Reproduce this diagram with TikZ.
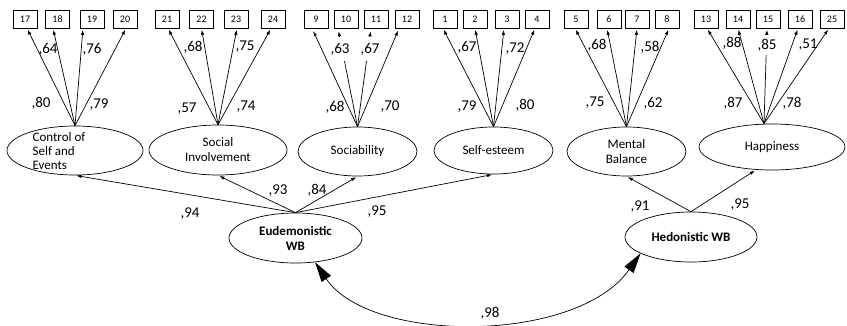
\documentclass[tikz,border=0pt]{standalone}
\usepackage{fontspec}
\setmainfont{Carlito}
\usetikzlibrary{shapes.geometric,arrows.meta}
\begin{document}
\begin{tikzpicture}[x=1pt,y=-1pt,
  item/.style={draw,line width=0.7pt,minimum width=24pt,minimum height=18pt,inner sep=0pt,
    font=\fontsize{10}{12}\selectfont},
  latent/.style={draw,ellipse,line width=0.7pt,inner sep=0pt,align=center,
    font=\fontsize{13}{15}\selectfont},
  bold latent/.style={latent,font=\fontsize{13}{15}\selectfont\bfseries},
  coef/.style={inner sep=0pt,font=\fontsize{15}{18}\selectfont},
  masked/.style={coef,fill=white,minimum width=24pt},
  load/.style={line width=0.7pt,-{Latex[length=5pt,width=3.5pt]},shorten >=1.5pt},
  corr/.style={line width=0.7pt,{Triangle[length=20pt,width=11pt]}-{Triangle[length=20pt,width=11pt]}}
]
\useasboundingbox (0,0) rectangle (847,325);

% latent factors
\node[latent,minimum width=136pt,minimum height=49pt] (ctrl) at (75,150.5) {};
\node[align=left,inner sep=0pt,font=\fontsize{13}{14}\selectfont] (ctrlT) at (59,151) {Control of\\Self and\\Events};
\node[latent,minimum width=138pt,minimum height=50pt] (soc) at (218,150) {Social\\Involvement};
\node[latent,minimum width=119pt,minimum height=49pt] (sab) at (357.5,151.5) {Sociability};
\node[latent,minimum width=119pt,minimum height=47pt] (est) at (493.5,150.5) {Self-esteem};
\node[latent,minimum width=119pt,minimum height=49pt] (mb) at (626.5,151.5) {Mental\\Balance};
\node[latent,minimum width=146pt,minimum height=46pt] (hap) at (772,147) {Happiness};
\node[bold latent,minimum width=133pt,minimum height=50pt] (eud) at (295.5,238) {Eudemonistic\\WB};
\node[bold latent,minimum width=132pt,minimum height=50pt] (hed) at (691,237) {Hedonistic WB};

% observed items
\foreach \n/\x in {17/25,18/57.5,19/92,20/125,21/167,22/201.5,23/236,24/273,
                   9/316,10/346,11/376,12/407,1/445,2/475,3/507,4/537,
                   5/576,6/609,7/637,8/667,13/706,14/738,15/768,16/800,25/832}
  \node[item] (b\n) at (\x,19) {\n};

% loadings: Control of Self and Events
\draw[load] (ctrl.north) -- ([xshift=2pt]b17.south);
\draw[load] (ctrl.north) -- ([xshift=-4.5pt]b18.south);
\draw[load] (ctrl.north) -- ([xshift=-9pt]b19.south);
\draw[load] (ctrl.north) -- ([xshift=1pt]b20.south);
% Social Involvement
\draw[load] (soc.north) -- ([xshift=1pt]b21.south);
\draw[load] (soc.north) -- (b22.south);
\draw[load] (soc.north) -- ([xshift=1pt]b23.south);
\draw[load] (soc.north) -- ([xshift=-2pt]b24.south);
% Sociability
\draw[load,shorten >=3pt] (sab.north) -- ([xshift=-4pt]b9.south);
\draw[load,shorten >=3pt] (sab.north) -- ([xshift=-8pt]b10.south);
\draw[load,shorten >=3pt] (sab.north) -- ([xshift=-5pt]b11.south);
\draw[load,shorten >=2.5pt] (sab.north) -- ([xshift=-8pt]b12.south);
% Self-esteem
\draw[load] (est.north) -- ([xshift=-2pt]b1.south);
\draw[load] (est.north) -- (b2.south);
\draw[load] (est.north) -- ([xshift=-3pt]b3.south);
\draw[load] (est.north) -- ([xshift=-2pt]b4.south);
% Mental Balance
\draw[load] (mb.north) -- ([xshift=-1pt]b5.south);
\draw[load] (mb.north) -- ([xshift=-2pt]b6.south);
\draw[load] (mb.north) -- (b7.south);
\draw[load] (mb.north) -- ([xshift=2pt]b8.south);
% Happiness
\coordinate (hapTop) at ([xshift=-8pt]hap.north);
\draw[load] (hapTop) -- ([xshift=1pt]b13.south);
\draw[load] (hapTop) -- (b14.south);
\draw[load] (hapTop) -- ([xshift=-1pt]b15.south);
\draw[load] (hapTop) -- ([xshift=-2pt]b16.south);
\draw[load] (hapTop) -- ([xshift=-3pt]b25.south);

% second-order paths
\draw[load] (eud.north) -- (ctrl.south);
\draw[load] (eud.north) -- (soc.south);
\draw[load] (eud.north) -- (sab.south);
\draw[load] (eud.north) -- (est.south);
\draw[load] (hed.north) -- (mb.south);
\draw[load] (hed.north) -- (hap.-125);

% factor correlation
\draw[corr] (eud.-51) .. controls (370,344) and (577,344) .. (hed.-162);

% coefficients
\node[coef] (c64) at (48,49) {,64};
\node[coef] (c76) at (92,49) {,76};
\node[coef] (c80a) at (41,103) {,80};
\node[coef] (c79a) at (99,105) {,79};
\node[coef] (c68a) at (193,47) {,68};
\node[coef] (c75a) at (245,47) {,75};
\node[coef] (c57) at (187,109) {,57};
\node[coef] (c74) at (246,107) {,74};
\node[masked,minimum height=24pt] (c63) at (340,49) {,63};
\node[masked,minimum height=24pt] (c67a) at (370,49) {,67};
\node[coef] (c68b) at (335,107) {,68};
\node[coef] (c70) at (390,107) {,70};
\node[coef] (c67b) at (467,47) {,67};
\node[coef] (c72) at (515,49) {,72};
\node[coef] (c79b) at (467,107) {,79};
\node[coef] (c80b) at (525,105) {,80};
\node[coef] (c68c) at (597,45) {,68};
\node[coef] (c58) at (650,47) {,58};
\node[coef] (c75b) at (595,103) {,75};
\node[coef] (c62) at (653,103) {,62};
\node[coef] (c88) at (732,43) {,88};
\node[masked,minimum height=20pt] (c85) at (767,45) {,85};
\node[coef] (c51) at (808,45) {,51};
\node[coef] (c87) at (733,103) {,87};
\node[coef] (c78) at (792,103) {,78};
\node[coef] (c94) at (190,214) {,94};
\node[coef] (c93) at (278,191) {,93};
\node[coef] (c84) at (317,190) {,84};
\node[coef] (c95a) at (377,212) {,95};
\node[coef] (c91) at (640,207) {,91};
\node[coef] (c95b) at (740,205) {,95};
\node[coef] (c98) at (490,313) {,98};
\end{tikzpicture}
\end{document}
